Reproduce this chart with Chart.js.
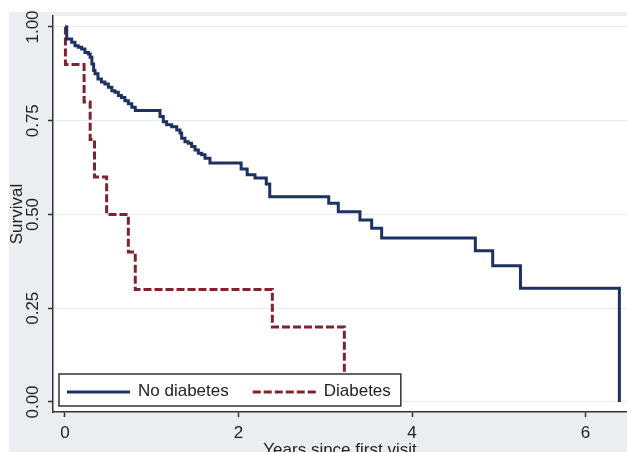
<!DOCTYPE html>
<html>
<head>
<meta charset="utf-8">
<script src="https://cdn.jsdelivr.net/npm/chart.js@4/dist/chart.umd.min.js"></script>
<style>
  html, body { margin: 0; padding: 0; background: #ffffff; overflow: hidden; }
  #wrap { width: 627px; height: 452px; overflow: hidden; position: relative; }
  canvas { display: block; }
</style>
</head>
<body>
<div id="wrap"><canvas id="km" width="627" height="462"></canvas></div>
<script>
// Kaplan-Meier survival estimates by diabetes status
const seriesLabels = ['No diabetes', 'Diabetes'];

const noDiabetesTime = [0, 0.02, 0.077, 0.115, 0.153, 0.192, 0.23, 0.27, 0.29, 0.31, 0.33, 0.346, 0.38,
  0.42, 0.46, 0.50, 0.54, 0.576, 0.615, 0.65, 0.69, 0.73, 0.77, 0.81,
  1.095, 1.133, 1.172, 1.23, 1.288, 1.326, 1.345, 1.383, 1.421, 1.46, 1.499, 1.537, 1.576, 1.614, 1.671,
  2.03, 2.10, 2.19, 2.32, 2.36, 3.04, 3.15, 3.40, 3.535, 3.65, 4.73, 4.93, 5.25, 6.39];
const noDiabetesSurv = [1, 0.968, 0.959, 0.950, 0.946, 0.941, 0.932, 0.928, 0.919, 0.901, 0.884, 0.875, 0.861,
  0.853, 0.848, 0.839, 0.830, 0.826, 0.817, 0.812, 0.803, 0.795, 0.786, 0.777,
  0.761, 0.747, 0.739, 0.734, 0.725, 0.717, 0.703, 0.694, 0.690, 0.681, 0.672, 0.663, 0.659, 0.650, 0.637,
  0.621, 0.606, 0.597, 0.581, 0.547, 0.530, 0.507, 0.485, 0.463, 0.437, 0.403, 0.363, 0.303, 0];

const diabetesTime = [0, 0.005, 0.22, 0.29, 0.34, 0.48, 0.73, 0.81, 2.39, 3.22];
const diabetesSurv = [1, 0.9, 0.8, 0.7, 0.6, 0.5, 0.4, 0.3, 0.2, 0];

const xTickValues = [0, 2, 4, 6];
const yTickValues = [0, 0.25, 0.5, 0.75, 1];

const FONT = '"Liberation Sans", Arial, sans-serif';
const INK = '#222222';
const NAVY = '#1d3162';
const MAROON = '#7c2530';
const PANEL = '#e8eef1';
const GRID = '#e3ebee';

const toPoints = (t, s) => t.map((v, i) => ({ x: v, y: s[i] }));

// Stata-style backdrop: tinted outer panel, white plot region
const backdrop = {
  id: 'backdrop',
  beforeDraw(chart) {
    const { ctx, width, height, chartArea: a } = chart;
    ctx.save();
    ctx.fillStyle = '#ffffff';
    ctx.fillRect(0, 0, width, height);
    ctx.fillStyle = PANEL;
    ctx.fillRect(9, 12, width - 9, height - 12);
    ctx.fillStyle = '#ffffff';
    ctx.fillRect(a.left, a.top, a.right - a.left, a.bottom - a.top);
    ctx.restore();
  }
};

// Boxed legend placed inside the lower-left corner of the plot
const insideLegend = {
  id: 'insideLegend',
  afterDatasetsDraw(chart) {
    const { ctx, chartArea: a } = chart;
    const sets = chart.data.datasets;
    ctx.save();
    ctx.font = '17px ' + FONT;
    const sample = 63, gapText = 8, gapItem = 24, padL = 8, padR = 10;
    let w = padL + padR;
    sets.forEach((d, i) => {
      w += sample + gapText + ctx.measureText(d.label).width + (i < sets.length - 1 ? gapItem : 0);
    });
    const h = 32;
    const bx = a.left + 6, by = a.bottom - 6 - h;
    ctx.fillStyle = '#ffffff';
    ctx.fillRect(bx, by, w, h);
    ctx.strokeStyle = '#333333';
    ctx.lineWidth = 1.5;
    ctx.strokeRect(bx, by, w, h);
    let x = bx + padL;
    const cy = by + h / 2 + 2;
    sets.forEach((d) => {
      ctx.beginPath();
      ctx.setLineDash(d.borderDash || []);
      ctx.lineCap = 'butt';
      ctx.strokeStyle = d.borderColor;
      ctx.lineWidth = d.borderWidth;
      ctx.moveTo(x, cy);
      ctx.lineTo(x + sample, cy);
      ctx.stroke();
      ctx.setLineDash([]);
      x += sample + gapText;
      ctx.fillStyle = INK;
      ctx.textBaseline = 'middle';
      ctx.textAlign = 'left';
      ctx.fillText(d.label, x, cy - 1);
      x += ctx.measureText(d.label).width + gapItem;
    });
    ctx.restore();
  }
};

new Chart(document.getElementById('km'), {
  type: 'line',
  data: {
    datasets: [
      {
        label: seriesLabels[0],
        data: toPoints(noDiabetesTime, noDiabetesSurv),
        borderColor: NAVY,
        borderWidth: 3,
        stepped: 'before',
        pointRadius: 0,
        fill: false
      },
      {
        label: seriesLabels[1],
        data: toPoints(diabetesTime, diabetesSurv),
        borderColor: MAROON,
        borderWidth: 3,
        borderDash: [8, 3],
        borderCapStyle: 'butt',
        stepped: 'before',
        pointRadius: 0,
        fill: false
      }
    ]
  },
  options: {
    responsive: false,
    animation: false,
    devicePixelRatio: 1,
    layout: { padding: { top: 16, right: 0, left: 0, bottom: 0 } },
    plugins: { legend: { display: false }, tooltip: { enabled: false } },
    scales: {
      x: {
        type: 'linear',
        min: -0.1383,
        max: 6.478,
        afterBuildTicks: (s) => { s.ticks = xTickValues.map(v => ({ value: v })); },
        afterFit: (s) => { s.height = 50; },
        ticks: { color: INK, font: { family: FONT, size: 17 }, padding: 6, maxRotation: 0,
                 callback: (v) => String(v) },
        grid: { drawOnChartArea: false, drawTicks: true, tickLength: 5, tickColor: '#333333', tickWidth: 1.5 },
        border: { display: true, color: '#333333', width: 1.5 },
        title: { display: true, text: 'Years since first visit', color: INK,
                 font: { family: FONT, size: 17 }, padding: { top: 0, bottom: 1 } }
      },
      y: {
        type: 'linear',
        min: -0.0267,
        max: 1.0293,
        afterBuildTicks: (s) => { s.ticks = yTickValues.map(v => ({ value: v })); },
        afterFit: (s) => { s.width = 53; },
        ticks: { color: INK, font: { family: FONT, size: 17 }, padding: -2,
                 minRotation: 90, maxRotation: 90, crossAlign: 'center',
                 callback: (v) => Number(v).toFixed(2) },
        grid: { color: GRID, lineWidth: 1, drawTicks: true, tickLength: 5, tickColor: '#333333', tickWidth: 1.5 },
        border: { display: true, color: '#333333', width: 1.5 },
        title: { display: true, text: 'Survival', color: INK,
                 font: { family: FONT, size: 17 }, padding: { top: 7, bottom: 0 } }
      }
    }
  },
  plugins: [backdrop, insideLegend]
});
</script>
</body>
</html>
